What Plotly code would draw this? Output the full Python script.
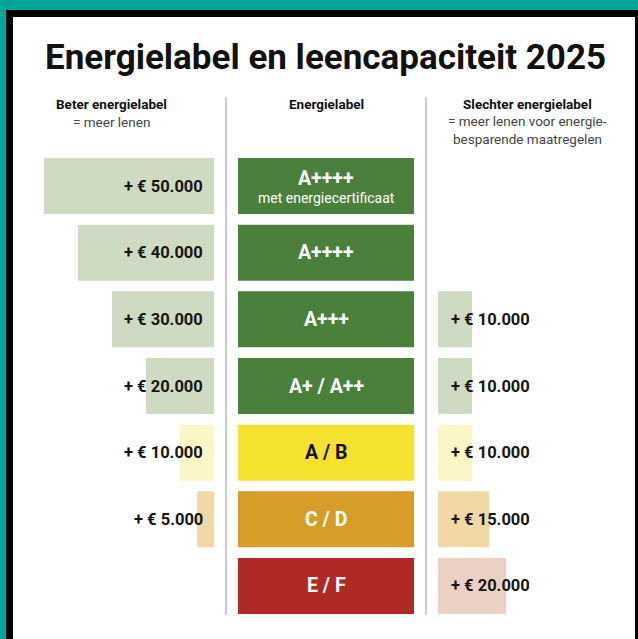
import plotly.graph_objects as go

# ---------------- data ----------------
categories = ["A++++ cert", "A++++", "A+++", "A+ / A++", "A / B", "C / D", "E / F"]
label_main = ["A++++", "A++++", "A+++", "A+ / A++", "A / B", "C / D", "E / F"]
label_sub = ["met energiecertificaat", "", "", "", "", "", ""]
better_values = [50000, 40000, 30000, 20000, 10000, 5000, None]
worse_values = [None, None, 10000, 10000, 10000, 15000, 20000]
better_text = ["+ € 50.000", "+ € 40.000", "+ € 30.000", "+ € 20.000", "+ € 10.000", "+ € 5.000", ""]
worse_text = ["", "", "+ € 10.000", "+ € 10.000", "+ € 10.000", "+ € 15.000", "+ € 20.000"]

# ---------------- styles ----------------
LIGHT_GREEN = "#CFDAC2"
LIGHT_YELLOW = "#FCF5C8"
LIGHT_TAN = "#F0D9A7"
LIGHT_PINK = "#EBD1C4"
better_colors = [LIGHT_GREEN, LIGHT_GREEN, LIGHT_GREEN, LIGHT_GREEN, LIGHT_YELLOW, LIGHT_TAN, LIGHT_TAN]
worse_colors = [LIGHT_GREEN, LIGHT_GREEN, LIGHT_GREEN, LIGHT_GREEN, LIGHT_YELLOW, LIGHT_TAN, LIGHT_PINK]
GREEN = "#4B7F3C"
YELLOW = "#F5E22F"
ORANGE = "#D69E28"
RED = "#AF2A25"
box_colors = [GREEN, GREEN, GREEN, GREEN, YELLOW, ORANGE, RED]
box_text_colors = ["white", "white", "white", "white", "#111111", "white", "white"]

W, H = 638, 639
FONT = "Roboto"

def px(x):
    return x / W

def py(y):
    return 1 - y / H

fig = go.Figure()

BAR_W = 0.84

fig.add_trace(go.Bar(
    x=better_values, y=categories, orientation="h", xaxis="x", yaxis="y",
    marker=dict(color=better_colors, line=dict(width=0)), width=BAR_W,
    hoverinfo="skip", showlegend=False,
))
fig.add_trace(go.Bar(
    x=worse_values, y=categories, orientation="h", xaxis="x2", yaxis="y",
    marker=dict(color=worse_colors, line=dict(width=0)), width=BAR_W,
    hoverinfo="skip", showlegend=False,
))
fig.add_trace(go.Bar(
    x=[1] * len(categories), y=categories, orientation="h", xaxis="x3", yaxis="y",
    marker=dict(color=box_colors, line=dict(width=0)), width=BAR_W,
    hoverinfo="skip", showlegend=False,
))

annotations = []
# title
annotations.append(dict(
    text="<b>Energielabel en leencapaciteit 2025</b>", xref="paper", yref="paper",
    x=px(325), y=py(58), xanchor="center", yanchor="middle", showarrow=False,
    font=dict(family=FONT, size=35, color="#111111"),
))
# column headers
hdr_font_b = dict(family=FONT, size=13.5, color="#111111")
hdr_font = dict(family=FONT, size=13.5, color="#444444")
for txt, x, y, f in [
    ("<b>Beter energielabel</b>", 111, 104, hdr_font_b),
    ("= meer lenen", 111, 122, hdr_font),
    ("<b>Energielabel</b>", 326, 104, hdr_font_b),
    ("<b>Slechter energielabel</b>", 527, 104, hdr_font_b),
    ("= meer lenen voor energie-", 527, 121, hdr_font),
    ("besparende maatregelen", 527, 139, hdr_font),
]:
    annotations.append(dict(
        text=txt, xref="paper", yref="paper", x=px(x), y=py(y),
        xanchor="center", yanchor="middle", showarrow=False, font=f,
    ))

val_font = dict(family=FONT, size=16.5, color="#151515")
for cat, t in zip(categories, better_text):
    if t:
        annotations.append(dict(
            text="<b>" + t + "</b>", xref="x", yref="y", x=0, y=cat,
            xanchor="right", yanchor="middle", xshift=-9, showarrow=False, font=val_font,
        ))
for cat, t in zip(categories, worse_text):
    if t:
        annotations.append(dict(
            text="<b>" + t + "</b>", xref="x2", yref="y", x=0, y=cat,
            xanchor="left", yanchor="middle", xshift=11, showarrow=False, font=val_font,
        ))
for cat, m, s, c in zip(categories, label_main, label_sub, box_text_colors):
    annotations.append(dict(
        text="<b>" + m + "</b>", xref="x3", yref="y", x=0.5, y=cat,
        xanchor="center", yanchor="middle", yshift=8 if s else 0, showarrow=False,
        font=dict(family=FONT, size=19.5, color=c),
    ))
    if s:
        annotations.append(dict(
            text=s, xref="x3", yref="y", x=0.5, y=cat,
            xanchor="center", yanchor="middle", yshift=-12, showarrow=False,
            font=dict(family=FONT, size=14, color=c),
        ))

shapes = [
    # black frame
    dict(type="rect", xref="paper", yref="paper", x0=px(6), x1=1.01, y0=-0.01, y1=py(10),
         fillcolor="#000000", line=dict(width=0), layer="below"),
    # white card
    dict(type="rect", xref="paper", yref="paper", x0=px(13), x1=px(635), y0=-0.01, y1=py(17),
         fillcolor="#FFFFFF", line=dict(width=0), layer="below"),
    # dividers
    dict(type="line", xref="paper", yref="paper", x0=px(226), x1=px(226), y0=py(97), y1=py(615),
         line=dict(color="#C9C9C9", width=2)),
    dict(type="line", xref="paper", yref="paper", x0=px(426), x1=px(426), y0=py(97), y1=py(615),
         line=dict(color="#C9C9C9", width=2)),
]

row_top, row_bottom = 152.7, 619.3
axis_common = dict(visible=False, showgrid=False, zeroline=False, fixedrange=True)
fig.update_layout(
    width=W, height=H, margin=dict(l=0, r=0, t=0, b=0),
    paper_bgcolor="#00A797", plot_bgcolor="rgba(0,0,0,0)",
    barmode="overlay",
    xaxis=dict(domain=[px(44), px(214)], range=[50000, 0], anchor="y", **axis_common),
    xaxis2=dict(domain=[px(438), px(608)], range=[0, 50000], anchor="y", **axis_common),
    xaxis3=dict(domain=[px(238), px(414)], range=[0, 1], anchor="y", **axis_common),
    yaxis=dict(domain=[py(row_bottom), py(row_top)], categoryorder="array",
               categoryarray=categories, autorange="reversed", **axis_common),
    annotations=annotations, shapes=shapes,
    font=dict(family=FONT),
)

fig.write_html(
    "out.html",
    config={"displayModeBar": False},
    post_script="document.body.style.margin='0';document.body.style.overflow='hidden';",
)
